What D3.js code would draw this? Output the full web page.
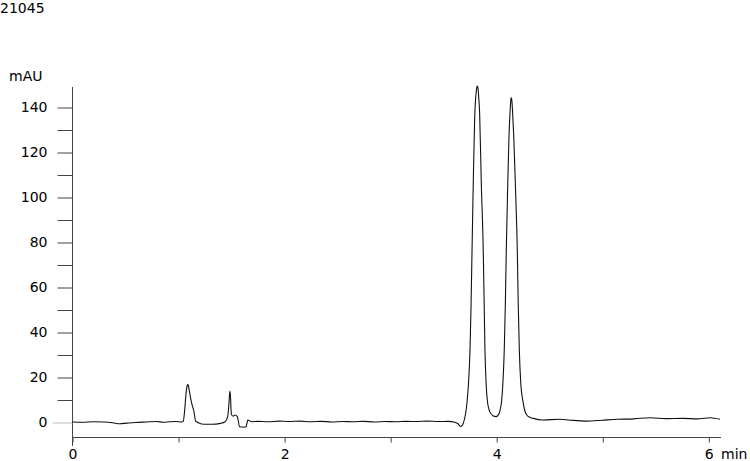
<!DOCTYPE html>
<html>
<head>
<meta charset="utf-8">
<script src="https://cdn.jsdelivr.net/npm/d3@7"></script>
<style>
  html, body { margin: 0; padding: 0; background: #fff; }
  svg { display: block; }
  text { font-family: "DejaVu Sans", Verdana, sans-serif; font-size: 14px; fill: #000; }
</style>
</head>
<body>
<svg id="chart" width="750" height="461"></svg>
<script>
// ---- data ----
const sampleName = "21045";
const yUnit = "mAU";
const xUnit = "min";

const times = [
  0.00, 0.10, 0.20, 0.30, 0.38, 0.45, 0.52, 0.60, 0.70, 0.80, 0.86, 0.92, 0.98, 1.03,
  1.049, 1.062, 1.075, 1.085, 1.091, 1.097, 1.105, 1.113, 1.129, 1.150, 1.166, 1.191,
  1.25, 1.32, 1.40, 1.443, 1.468, 1.478, 1.486, 1.490, 1.495, 1.500, 1.506, 1.522, 1.537,
  1.559, 1.570, 1.578, 1.620, 1.641, 1.650, 1.657, 1.695,
  1.75, 1.85, 1.95, 2.05, 2.15, 2.25, 2.35, 2.45, 2.55, 2.65, 2.75, 2.85, 2.95, 3.05,
  3.15, 3.25, 3.35, 3.45, 3.55, 3.60, 3.64, 3.668, 3.690,
  3.712, 3.727, 3.740, 3.753, 3.763, 3.772, 3.784, 3.797, 3.810, 3.817, 3.822, 3.828, 3.834,
  3.844, 3.859, 3.878, 3.886, 3.894, 3.905, 3.916, 3.94, 3.97, 3.998, 4.025, 4.040,
  4.052, 4.064, 4.076, 4.086, 4.095, 4.108, 4.121, 4.132, 4.138, 4.142, 4.147, 4.153,
  4.165, 4.182, 4.199, 4.208, 4.218, 4.232, 4.250, 4.270, 4.288, 4.318, 4.350,
  4.44, 4.60, 4.70, 4.856, 5.00, 5.14, 5.30, 5.45, 5.60, 5.76, 5.90, 6.02, 6.11
];
const absorbance = [
  0.0, -0.1, 0.1, 0.0, -0.3, -0.8, -0.5, -0.2, 0.0, 0.2, -0.1, 0.1, 0.2, 0.0,
  0.3, 5.0, 12.5, 16.0, 16.6, 16.2, 14.2, 12.0, 8.3, 4.6, 0.4, -0.3,
  -1.0, -1.0, -0.6, 0.1, 2.4, 7.0, 12.5, 13.8, 11.0, 5.0, 3.1, 2.6, 3.1,
  2.4, 0.0, -2.1, -2.3, -2.1, -0.5, 0.9, 0.1,
  0.3, 0.1, 0.4, 0.2, 0.4, 0.1, 0.3, 0.0, 0.2, 0.1, 0.3, 0.0, 0.2, 0.1,
  0.3, 0.2, 0.4, 0.2, 0.3, 0.0, -0.8, -2.0, -0.5,
  3.9, 9.8, 18, 32, 52, 76, 107, 135, 146, 148.6, 149.3, 148.4, 145,
  137, 107, 76, 54, 32, 17, 9.8, 4.5, 2.8, 2.4, 3.5, 6,
  9.8, 18, 32, 52, 76, 104, 127.6, 139, 143.3, 144.1, 143.2, 139,
  127.6, 104, 76, 52, 32, 17, 9.8, 5.0, 3.1, 2.1, 1.6,
  0.9, 1.2, 0.8, 0.4, 0.8, 1.2, 1.4, 1.9, 1.5, 1.6, 1.4, 1.9, 1.2
];

const yMajorTicks = [0, 20, 40, 60, 80, 100, 120, 140];
const yMinorTicks = [10, 30, 50, 70, 90, 110, 130];
const xMajorTicks = [0, 2, 4, 6];
const xMinorTicks = [1, 3, 5];

// ---- drawing ----
const svg = d3.select("#chart");
const x = d3.scaleLinear().domain([0, 6]).range([72, 708.3]);
const y = d3.scaleLinear().domain([0, 140]).range([422, 107]);
const xAxisY = 437;
const yAxisTop = y(148.9);
const xAxisEnd = x(6.12);
const axisColor = "#444";

// title
svg.append("text").attr("x", 0).attr("y", 13).text(sampleName);
svg.append("text").attr("x", 9).attr("y", 81).text(yUnit);

// y axis line
svg.append("line")
  .attr("x1", x(0) + 0.5).attr("x2", x(0) + 0.5)
  .attr("y1", yAxisTop).attr("y2", xAxisY + 9)
  .attr("stroke", axisColor).attr("stroke-width", 1);

// y ticks
const yAxis = d3.axisLeft(y).tickValues(yMajorTicks).tickSize(15).tickPadding(10).tickFormat(d3.format("d"));
const gy = svg.append("g").attr("transform", `translate(${x(0) + 0.5},0.5)`).call(yAxis);
gy.select(".domain").remove();
gy.selectAll(".tick line").attr("stroke", d => d === 0 ? "#bbb" : axisColor)
  .attr("x2", d => d === 0 ? -20 : -15);
gy.selectAll(".tick text").attr("font-family", "DejaVu Sans, Verdana, sans-serif").attr("font-size", 14).attr("fill", "#000");
const yAxisMinor = d3.axisLeft(y).tickValues(yMinorTicks).tickSize(15).tickFormat("");
const gym = svg.append("g").attr("transform", `translate(${x(0) + 0.5},0.5)`).call(yAxisMinor);
gym.select(".domain").remove();
gym.selectAll(".tick line").attr("stroke", axisColor);

// x axis line
svg.append("line")
  .attr("x1", x(0)).attr("x2", xAxisEnd)
  .attr("y1", xAxisY + 0.5).attr("y2", xAxisY + 0.5)
  .attr("stroke", axisColor).attr("stroke-width", 1);

const xAxis = d3.axisBottom(x).tickValues(xMajorTicks).tickSize(5).tickPadding(7).tickFormat(d3.format("d"));
const gx = svg.append("g").attr("transform", `translate(0.5,${xAxisY + 0.5})`).call(xAxis);
gx.select(".domain").remove();
gx.selectAll(".tick line").attr("stroke", axisColor);
gx.selectAll(".tick text").attr("font-family", "DejaVu Sans, Verdana, sans-serif").attr("font-size", 14).attr("fill", "#000");
const xAxisMinor = d3.axisBottom(x).tickValues(xMinorTicks).tickSize(5).tickFormat("");
const gxm = svg.append("g").attr("transform", `translate(0.5,${xAxisY + 0.5})`).call(xAxisMinor);
gxm.select(".domain").remove();
gxm.selectAll(".tick line").attr("stroke", axisColor);

svg.append("text").attr("x", 721).attr("y", 459).text(xUnit);

// trace
const points = times.map((t, i) => [t, absorbance[i]]);
const line = d3.line().x(d => x(d[0])).y(d => y(d[1])).curve(d3.curveMonotoneX);
svg.append("path")
  .datum(points)
  .attr("d", line)
  .attr("fill", "none")
  .attr("stroke", "#111")
  .attr("stroke-width", 1.1)
  .attr("stroke-linejoin", "round");
</script>
</body>
</html>
